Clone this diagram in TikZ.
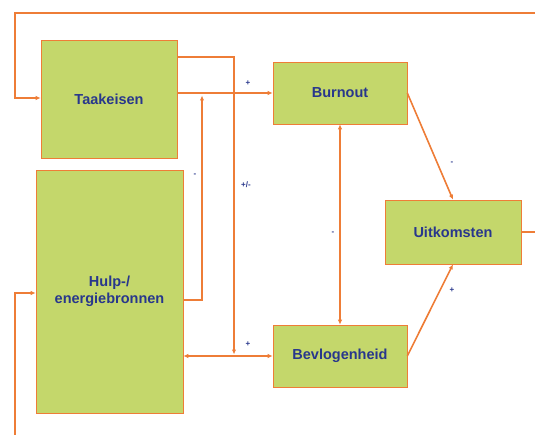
\documentclass[tikz,border=0pt]{standalone}
\usepackage{fontspec}
\setmainfont{Liberation Sans}
\usetikzlibrary{arrows.meta}

\definecolor{boxgreen}{RGB}{196,215,107}
\definecolor{lineorange}{RGB}{238,125,55}
\definecolor{textblue}{RGB}{40,55,140}

\tikzset{
    factor/.style={draw=lineorange, line width=0.6pt, fill=boxgreen, text=textblue,
        font=\bfseries\fontsize{14.5}{17}\selectfont, align=center, inner sep=0pt},
    link/.style={draw=lineorange, line width=1.6pt, -{Latex[length=5pt,width=4.5pt]}},
    sign/.style={text=textblue, font=\bfseries\fontsize{8}{9}\selectfont, inner sep=0pt}
}

\begin{document}
\begin{tikzpicture}[x=1pt, y=-1pt]
    \useasboundingbox (0,0) rectangle (535,435);
    \clip (0,0) rectangle (535,435);

    \node[factor, minimum width=136pt, minimum height=118pt] (taak) at (109,99) {Taakeisen};
    \node[factor, minimum width=147pt, minimum height=243pt] (hulp) at (109.5,291.5) {Hulp-/\\energiebronnen};
    \node[factor, minimum width=134pt, minimum height=62pt] (burn) at (340,93) {Burnout};
    \node[factor, minimum width=134pt, minimum height=62pt] (bevl) at (340,356) {Bevlogenheid};
    \node[factor, minimum width=136pt, minimum height=64pt] (uitk) at (453,232) {Uitkomsten};

    \coordinate (offright) at (545,13);
    \coordinate (offbottom) at (15,445);
    \coordinate (upjoin) at (202,94);
    \coordinate (downjoin) at (234,356);

    % terugkoppeling
    \draw[link] (uitk.east) -| (offright) -| (15,98) -- (taak.west |- 0,98);
    \draw[link] (offbottom) |- (hulp.west |- 0,293);

    \draw[link] (taak.east |- burn.west) -- (burn.west);
    \draw[link, shorten >=1.5pt] (taak.east |- 0,57) -| (downjoin);
    \draw[link, shorten >=1.5pt] (hulp.east |- 0,300) -| (upjoin);
    \draw[link, {Latex[length=5pt,width=4.5pt]}-{Latex[length=5pt,width=4.5pt]}] (hulp.east |- bevl.west) -- (bevl.west);
    \draw[link, {Latex[length=5pt,width=4.5pt]}-{Latex[length=5pt,width=4.5pt]}] (bevl.north) -- (burn.south);
    \draw[link] (burn.east) -- (uitk.north);
    \draw[link] (bevl.east) -- (uitk.south);

    \node[sign] (s1) at (248,83) {+};
    \node[sign] (s2) at (195,175) {-};
    \node[sign] (s3) at (246,185) {+/-};
    \node[sign] (s4) at (333,233) {-};
    \node[sign] (s5) at (452,163) {-};
    \node[sign] (s6) at (452,290) {+};
    \node[sign] (s7) at (248,344) {+};
\end{tikzpicture}
\end{document}
